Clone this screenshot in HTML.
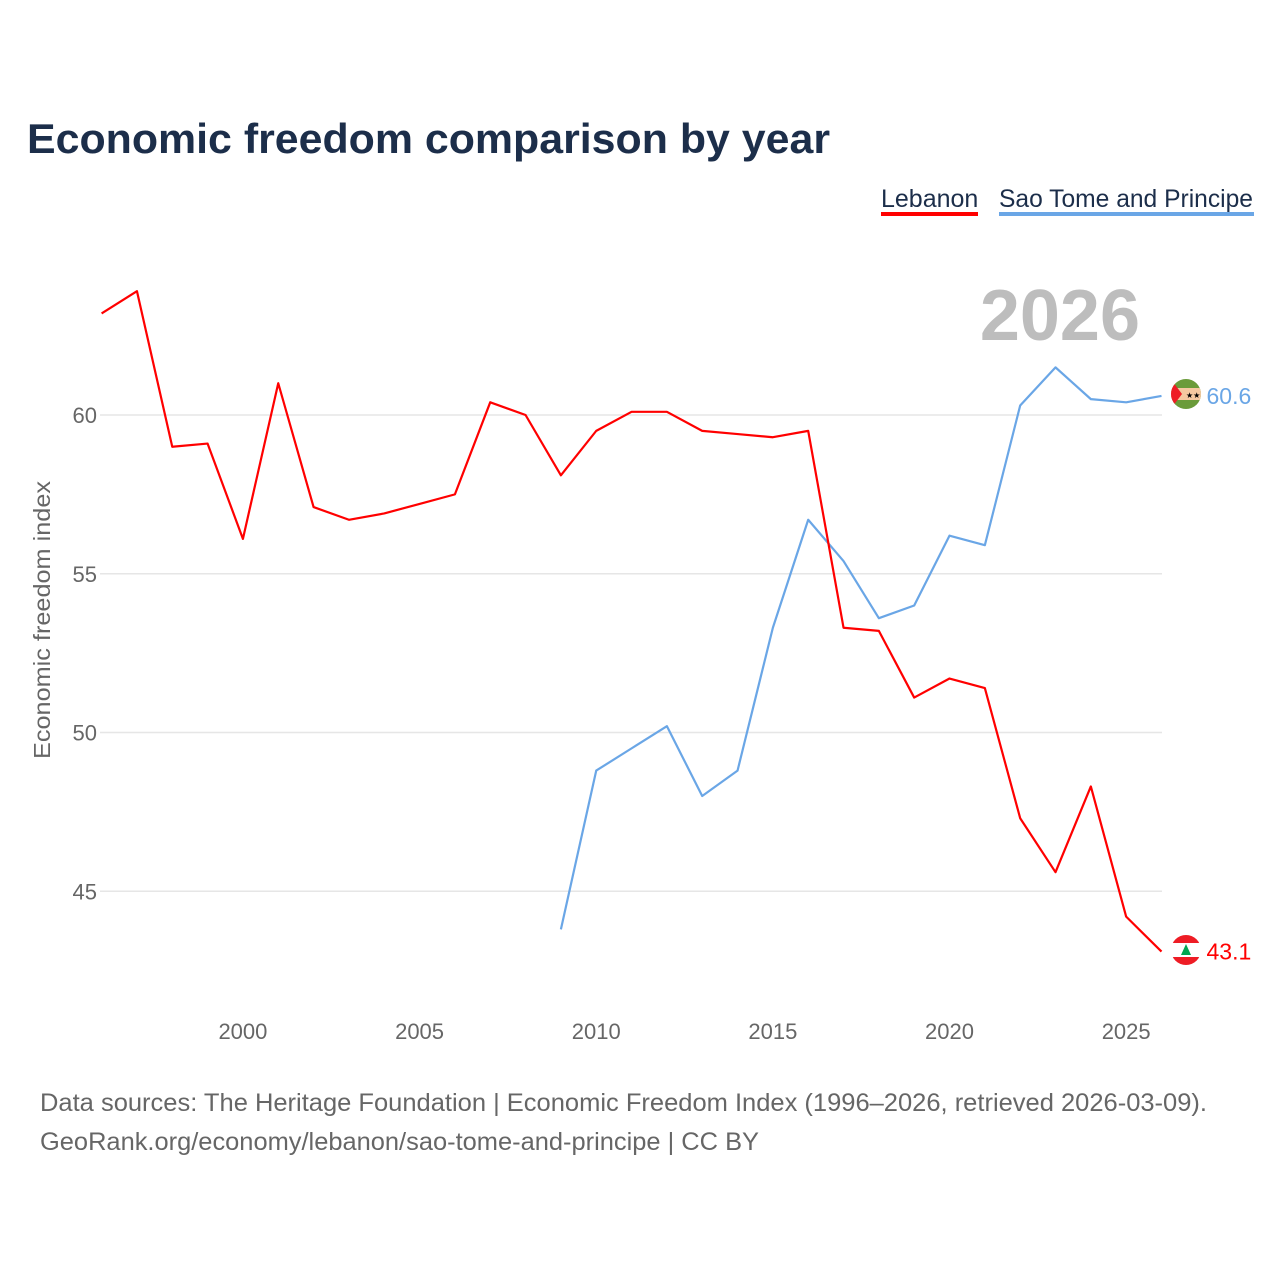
<!DOCTYPE html>
<html><head><meta charset="utf-8">
<style>
body{margin:0;background:#fff;font-family:"Liberation Sans",sans-serif;}
</style></head>
<body>
<svg id="chart" width="1280" height="1280" xmlns="http://www.w3.org/2000/svg" style="display:block">
<defs>
<clipPath id="clipLeb"><circle cx="1186" cy="950" r="15"/></clipPath>
<clipPath id="clipStp"><circle cx="1186" cy="394" r="15"/></clipPath>
</defs>
<rect width="1280" height="1280" fill="#fff"/>
<text x="27" y="153" font-size="42" font-weight="bold" fill="#1c2e4a" textLength="803" lengthAdjust="spacingAndGlyphs">Economic freedom comparison by year</text>
<g>
<text x="881" y="207" font-size="25" fill="#1c2e4a">Lebanon</text>
<rect x="881" y="212" width="97" height="4" fill="#ff0000"/>
<text x="999" y="207" font-size="25" fill="#1c2e4a" textLength="254" lengthAdjust="spacingAndGlyphs">Sao Tome and Principe</text>
<rect x="999" y="212" width="255" height="4" fill="#6aa6e6"/>
</g>
<text x="1140" y="340" text-anchor="end" font-size="72" font-weight="bold" fill="#bdbdbd">2026</text>
<g id="grid"></g>
<g id="xaxis"></g>
<text transform="translate(50,620) rotate(-90)" text-anchor="middle" font-size="23" fill="#666" textLength="278" lengthAdjust="spacingAndGlyphs">Economic freedom index</text>
<g id="series"></g>
<g clip-path="url(#clipLeb)">
<rect x="1170" y="934" width="32" height="32" fill="#fff"/>
<rect x="1170" y="934" width="32" height="9" fill="#ee1c25"/>
<rect x="1170" y="957" width="32" height="9" fill="#ee1c25"/>
<polygon points="1186,944 1181,955 1191,955" fill="#00a651"/>
</g>
<g clip-path="url(#clipStp)">
<rect x="1170" y="378" width="32" height="32" fill="#6a9b3a"/>
<rect x="1170" y="388" width="32" height="12" fill="#f5c8a0"/>
<polygon points="1170,378 1182,394 1170,410" fill="#ee1c25"/>
<text x="1186" y="398" font-size="8" fill="#000">★★</text>
</g>
<text x="40" y="1111" font-size="25" fill="#666" textLength="1167" lengthAdjust="spacingAndGlyphs">Data sources: The Heritage Foundation | Economic Freedom Index (1996–2026, retrieved 2026-03-09).</text>
<text x="40" y="1150" font-size="25" fill="#666" textLength="719" lengthAdjust="spacingAndGlyphs">GeoRank.org/economy/lebanon/sao-tome-and-principe | CC BY</text>
</svg>
<script>
const yTicks=[45,50,55,60];
const xTicks=[2000,2005,2010,2015,2020,2025];
const lebYears=[1996,1997,1998,1999,2000,2001,2002,2003,2004,2005,2006,2007,2008,2009,2010,2011,2012,2013,2014,2015,2016,2017,2018,2019,2020,2021,2022,2023,2024,2025,2026];
const lebValues=[63.2,63.9,59.0,59.1,56.1,61.0,57.1,56.7,56.9,57.2,57.5,60.4,60.0,58.1,59.5,60.1,60.1,59.5,59.4,59.3,59.5,53.3,53.2,51.1,51.7,51.4,47.3,45.6,48.3,44.2,43.1];
const stpYears=[2009,2010,2011,2012,2013,2014,2015,2016,2017,2018,2019,2020,2021,2022,2023,2024,2025,2026];
const stpValues=[43.8,48.8,49.5,50.2,48.0,48.8,53.3,56.7,55.4,53.6,54.0,56.2,55.9,60.3,61.5,60.5,60.4,60.6];
const NS='http://www.w3.org/2000/svg';
const x=yr=>101.6+(yr-1996)*35.33;
const y=v=>415-(v-60)*31.75;
function mk(tag,attrs,parent){const e=document.createElementNS(NS,tag);for(const k in attrs)e.setAttribute(k,attrs[k]);parent.appendChild(e);return e;}
const grid=document.getElementById('grid');
yTicks.forEach(t=>{
 const l=mk('line',{x1:100,x2:1162,y1:y(t),y2:y(t),stroke:'#e6e6e6','stroke-width':1.5},grid);
 
 
 const tx=mk('text',{x:97,y:y(t)+8,'text-anchor':'end','font-size':22,fill:'#666'},grid);
 tx.textContent=t;
 
 
});
const xa=document.getElementById('xaxis');
xTicks.forEach(t=>{
 const tx=mk('text',{x:x(t),y:1039,'text-anchor':'middle','font-size':22,fill:'#666'},xa);
 tx.textContent=t;
 
 
});
const s=document.getElementById('series');
function line(ys,vs,color,name){
 const p=mk('polyline',{points:ys.map((yr,i)=>x(yr)+','+y(vs[i])).join(' '),fill:'none',stroke:color,'stroke-width':2.2,'stroke-linejoin':'round'},s);
 
 
 const lv=vs[vs.length-1];
 const cx=x(ys[ys.length-1])+25;
 const t=mk('text',{x:cx+20,y:y(lv)+8,'font-size':23,fill:color},s);
 t.textContent=lv.toFixed(1);
 
 
}
line(stpYears,stpValues,'#6aa6e6','sao-tome');
line(lebYears,lebValues,'#ff0000','lebanon');
</script>
</body></html>
